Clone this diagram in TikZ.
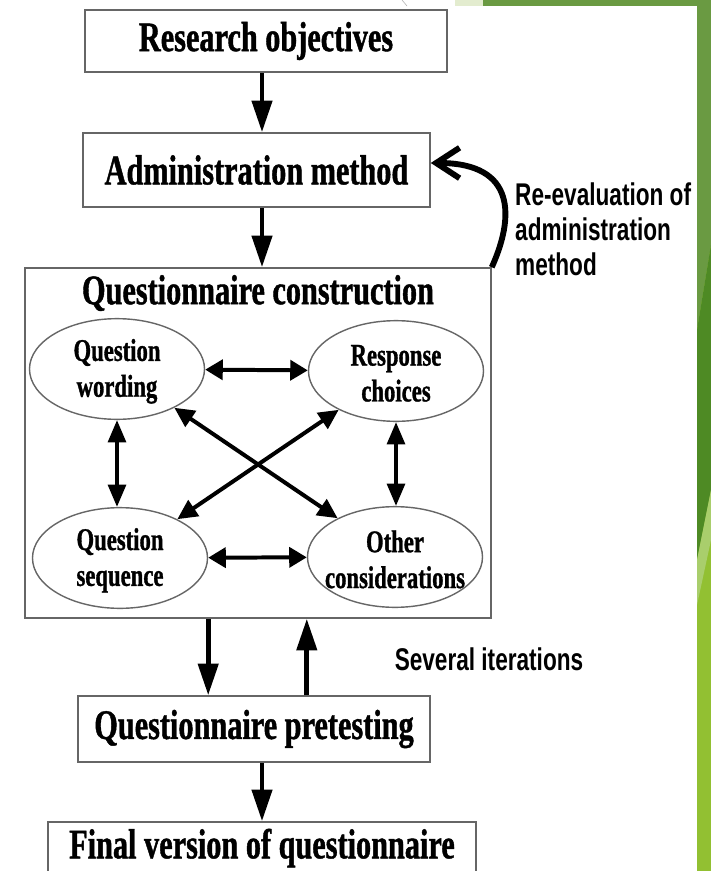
\documentclass[tikz,border=0pt]{standalone}
\usepackage{fontspec}
\usetikzlibrary{arrows.meta,positioning,shapes.geometric}
\newfontfamily\boxfont{Liberation Serif}[FakeStretch=0.72,FakeBold=1]
\newfontfamily\notefont{Liberation Sans}[FakeStretch=0.72]
\definecolor{frame}{HTML}{666666}
\definecolor{leafolive}{HTML}{6A9A42}
\definecolor{leafdark}{HTML}{4E8A24}
\definecolor{leafpale}{HTML}{A9CE6C}
\definecolor{leafbright}{HTML}{92C032}
\definecolor{leafmist}{HTML}{E3ECCF}

\begin{document}
\begin{tikzpicture}[x=0.03cm,y=0.03cm]
 \tikzstyle{stage}=[rectangle,draw=frame,line width=1.3pt,inner sep=0pt,font=\boxfont\bfseries\fontsize{35.9pt}{40pt}\selectfont]
 \tikzstyle{heading}=[inner sep=0pt,font=\boxfont\bfseries\fontsize{35.9pt}{40pt}\selectfont]
 \tikzstyle{oval}=[ellipse,draw=frame,line width=1.2pt,minimum width=5.25cm,minimum height=3.02cm,inner sep=0pt]
 \tikzstyle{ovaltext}=[align=center,inner sep=0pt,font=\boxfont\bfseries\fontsize{26.9pt}{30.6pt}\selectfont]
 \tikzstyle{note}=[align=left,inner sep=0pt,font=\notefont\bfseries\fontsize{26.8pt}{29.8pt}\selectfont]
 \tikzstyle{flow}=[line width=4pt,-{Triangle[length=27pt,width=17pt]}]
 \tikzstyle{hlink}=[line width=3.4pt,{Triangle[length=15pt,width=17pt]}-{Triangle[length=15pt,width=17pt]}]
 \tikzstyle{vlink}=[line width=3.4pt,{Triangle[length=19pt,width=15pt]}-{Triangle[length=19pt,width=15pt]}]
 \tikzstyle{xlink}=[line width=3.4pt,{Triangle[length=17pt,width=16pt]}-{Triangle[length=17pt,width=16pt]}]
 % slide background
 \fill[white] (0,0) rectangle (711,-871);
 \useasboundingbox (0,0) rectangle (711,-871);
 \fill[leafmist] (455,0) rectangle (483,-6);
 \fill[leafolive] (483,0) rectangle (711,-6);
 \draw[gray!60,line width=0.5pt] (402,0) -- (407,-6);
 \fill[leafbright] (697,0) rectangle (711,-871);
 \fill[leafolive] (697,0) -- (711,0) -- (711,-245) -- (697,-330) -- cycle;
 \fill[leafdark] (697,-330) -- (711,-245) -- (711,-490) -- (697,-560) -- cycle;
 \fill[leafpale] (697,-560) -- (711,-490) -- (711,-540) -- (697,-605) -- cycle;
 % stages
 \coordinate (spine) at (262,0);
 \node[stage,minimum width=10.86cm,minimum height=1.86cm] (research) at (266,-41) {Research objectives};
 \node[stage,minimum width=10.41cm,minimum height=2.22cm] (admin) at (256.5,-170) {Administration method};
 \node[stage,minimum width=13.98cm,minimum height=10.5cm] (qc) at (258,-443) {};
 \node[heading] (qctitle) at (258,-293) {Questionnaire construction};
 \node[stage,minimum width=10.56cm,minimum height=1.98cm] (pretest) at (254,-729) {Questionnaire pretesting};
 \node[stage,minimum width=12.84cm,minimum height=1.56cm] (final) at (262,-848) {Final version of questionnaire};
 % construction parts
 \node[oval] (qw) at (117,-369) {};
 \node[oval] (rc) at (396,-371) {};
 \node[oval] (qs) at (120,-558) {};
 \node[oval] (oc) at (395,-557) {};
 \node[ovaltext] at ([yshift=-2pt]qw) {Question\\wording};
 \node[ovaltext] at ([yshift=-2pt]rc) {Response\\choices};
 \node[ovaltext] at ([yshift=-2pt]qs) {Question\\sequence};
 \node[ovaltext] at ([yshift=-2pt]oc) {Other\\considerations};
 % notes
 \node[note,anchor=west] (reeval) at (515,-229) {Re-evaluation of\\administration\\method};
 \node[note] (iter) at (489,-659) {Several iterations};
 % connectors
 \draw[flow] (spine |- research.south) -- (spine |- admin.north);
 \draw[flow] (spine |- admin.south) -- (spine |- qc.north);
 \draw[flow] (qs.east |- qc.south) -- (qs.east |- pretest.north);
 \draw[flow] (oc.west |- pretest.north) -- (oc.west |- qc.south);
 \draw[flow] (spine |- pretest.south) -- (spine |- final.north);
 \draw[hlink] (qw) -- (rc);
 \draw[hlink] (qs) -- (oc);
 \draw[vlink] (qw.south) -- (qw.south |- qs.north);
 \draw[vlink] (rc.south) -- (rc.south |- oc.north);
 \draw[xlink] (qw) -- (oc);
 \draw[xlink] (rc) -- (qs);
 \draw[line width=5pt,-{Straight Barb[length=20pt,width=26pt]}] (qc.north east) .. controls (514,-218) and (517,-163) .. ([yshift=6pt]admin.east);
\end{tikzpicture}
\end{document}
